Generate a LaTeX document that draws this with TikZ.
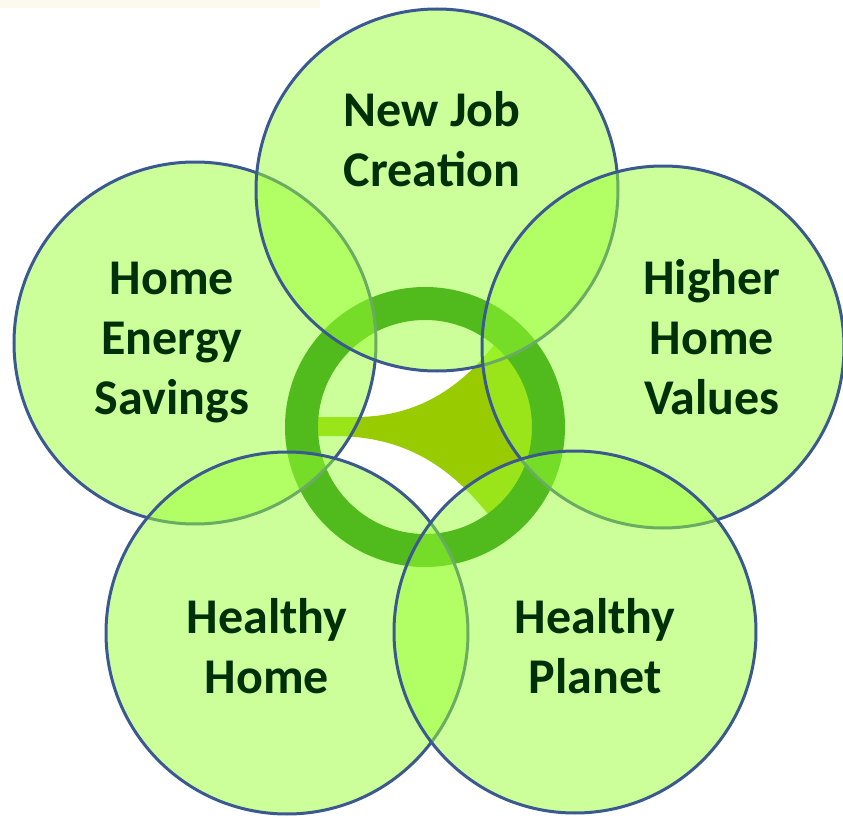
\documentclass[tikz,border=0pt]{standalone}
\usepackage{fontspec}
\setmainfont{Carlito}
\definecolor{bubblefill}{RGB}{153,255,51}
\definecolor{bubbleline}{RGB}{59,89,145}
\definecolor{ringgreen}{RGB}{10,120,10}
\definecolor{funnelgreen}{RGB}{153,204,0}
\definecolor{captiongreen}{RGB}{0,48,10}
\definecolor{stripcolor}{RGB}{250,250,238}
\tikzset{
  bubble/.style={circle, draw=bubbleline, line width=1.5pt, fill=bubblefill, fill opacity=0.5, minimum size=181pt, inner sep=0pt},
  caption/.style={text=captiongreen, font=\fontsize{25}{30}\selectfont\bfseries, align=center, inner sep=0pt}
}
\begin{document}
\begin{tikzpicture}[x=0.5pt, y=-0.5pt]
  \useasboundingbox (0,0) rectangle (843,819);
  \fill[stripcolor] (0,0) rectangle (320,8);

  % green funnel and ring behind the bubbles
  \begin{scope}
    \clip (425,427) circle (120);
    \fill[funnelgreen] (310,417) -- (355,417) .. controls (410,417) and (460,395) .. (505,330)
      -- (600,330) -- (600,545) -- (500,530) .. controls (450,460) and (400,438) .. (340,436)
      -- (310,436) -- cycle;
  \end{scope}
  \node[circle, draw=ringgreen, line width=16.5pt, minimum size=123.5pt, inner sep=0pt] (ring) at (425,427) {};

  % bubbles
  \node[bubble] (savings) at (195,343) {};
  \node[bubble] (jobs) at (437,190) {};
  \node[bubble] (values) at (663,347) {};
  \node[bubble] (home) at (287,633) {};
  \node[bubble] (planet) at (575,632) {};

  \node[caption] (jobstext) at (432,139) {New Job\\Creation};
  \node[caption] (savingstext) at (172,343) {Home\\Energy\\Savings};
  \node[caption] (valuestext) at (712,337) {Higher\\Home\\Values};
  \node[caption] (hometext) at (267,646) {Healthy\\Home};
  \node[caption] (planettext) at (595,646) {Healthy\\Planet};
\end{tikzpicture}
\end{document}
